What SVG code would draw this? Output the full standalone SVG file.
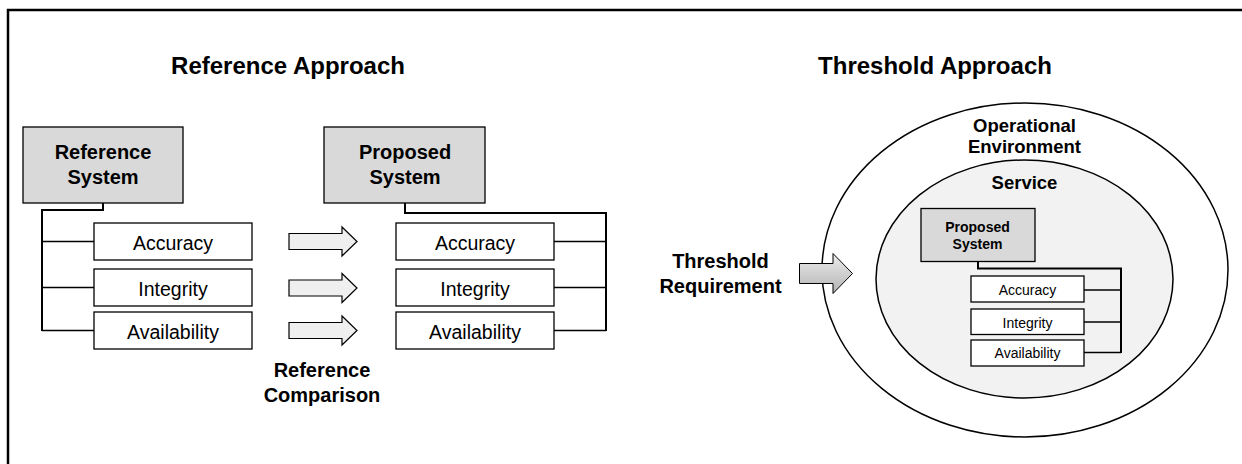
<svg xmlns="http://www.w3.org/2000/svg" width="1242" height="464" viewBox="0 0 1242 464">
  <defs>
    <linearGradient id="reqFill" x1="0" y1="0" x2="0" y2="1">
      <stop offset="0" stop-color="#ececec"/>
      <stop offset="1" stop-color="#b4b4b4"/>
    </linearGradient>
  </defs>
  <style>
    text { font-family: "Liberation Sans", Arial, sans-serif; fill: #000; text-anchor: middle; }
    .title { font-size: 24px; font-weight: bold; }
    .label { font-size: 20px; font-weight: bold; }
    .env { font-size: 18.5px; font-weight: bold; }
    .sys { fill: #d9d9d9; stroke: #000; stroke-width: 1.3; }
    .attr { fill: #fff; stroke: #000; stroke-width: 1.3; }
    .attr-t { font-size: 19.5px; }
    .small-sys-t { font-size: 14px; font-weight: bold; }
    .small-attr-t { font-size: 14px; }
    .link { fill: none; stroke: #000; stroke-width: 1.3; }
    .link-main { fill: none; stroke: #000; stroke-width: 2; }
    .cmp { fill: #efefef; stroke: #000; stroke-width: 1.2; }
  </style>

  <rect width="1242" height="464" fill="#fff"/>
  <!-- outer frame -->
  <rect x="8" y="10" width="1250" height="470" fill="none" stroke="#000" stroke-width="2.5"/>

  <!-- section titles -->
  <text class="title" x="288" y="74">Reference Approach</text>
  <text class="title" x="935" y="74">Threshold Approach</text>

  <!-- connectors -->
  <g id="connectors">
    <!-- reference system tree -->
    <polyline class="link-main" points="103,203 103,210 42,210 42,331"/>
    <line class="link" x1="42" y1="241.5" x2="94" y2="241.5"/>
    <line class="link" x1="42" y1="287.5" x2="94" y2="287.5"/>
    <line class="link" x1="42" y1="330.5" x2="94" y2="330.5"/>
    <!-- proposed system tree -->
    <polyline class="link-main" points="405,203 405,213 606,213 606,331"/>
    <line class="link" x1="554" y1="241.5" x2="606" y2="241.5"/>
    <line class="link" x1="554" y1="287.5" x2="606" y2="287.5"/>
    <line class="link" x1="554" y1="330.5" x2="606" y2="330.5"/>
    <!-- comparison arrows -->
    <polygon class="cmp" points="289,233.5 342,233.5 342,227 357,241.5 342,256 342,249.5 289,249.5"/>
    <polygon class="cmp" points="289,280 342,280 342,273.5 357,288 342,302.5 342,296 289,296"/>
    <polygon class="cmp" points="289,322.5 342,322.5 342,316 357,330.5 342,345 342,338.5 289,338.5"/>
  </g>

  <!-- reference system -->
  <g id="reference-system">
    <rect class="sys" x="23" y="127" width="160" height="76"/>
    <text class="label" x="103" y="159">Reference</text>
    <text class="label" x="103" y="183.5">System</text>
  </g>
  <g id="ref-accuracy">
    <rect class="attr" x="94" y="223" width="158" height="37"/>
    <text class="attr-t" x="173" y="250">Accuracy</text>
  </g>
  <g id="ref-integrity">
    <rect class="attr" x="94" y="269" width="158" height="37"/>
    <text class="attr-t" x="173" y="295.5">Integrity</text>
  </g>
  <g id="ref-availability">
    <rect class="attr" x="94" y="312" width="158" height="37"/>
    <text class="attr-t" x="173" y="339">Availability</text>
  </g>

  <g id="reference-comparison">
    <text class="label" x="322" y="377">Reference</text>
    <text class="label" x="322" y="402">Comparison</text>
  </g>

  <!-- proposed system -->
  <g id="proposed-system">
    <rect class="sys" x="324" y="127" width="161" height="76"/>
    <text class="label" x="405" y="159">Proposed</text>
    <text class="label" x="405" y="183.5">System</text>
  </g>
  <g id="prop-accuracy">
    <rect class="attr" x="396" y="223" width="158" height="37"/>
    <text class="attr-t" x="475" y="250">Accuracy</text>
  </g>
  <g id="prop-integrity">
    <rect class="attr" x="396" y="269" width="158" height="37"/>
    <text class="attr-t" x="475" y="295.5">Integrity</text>
  </g>
  <g id="prop-availability">
    <rect class="attr" x="396" y="312" width="158" height="37"/>
    <text class="attr-t" x="475" y="339">Availability</text>
  </g>

  <!-- threshold approach -->
  <g id="operational-environment">
    <ellipse cx="1025" cy="270" rx="203" ry="167" fill="#fff" stroke="#000" stroke-width="1.5"/>
    <text class="env" x="1024.5" y="131.5">Operational</text>
    <text class="env" x="1024.5" y="152.5">Environment</text>
  </g>
  <g id="service">
    <ellipse cx="1024.5" cy="279" rx="148.5" ry="119" fill="#f2f2f2" stroke="#000" stroke-width="1.5"/>
    <text class="env" x="1024.5" y="188.5">Service</text>
  </g>

  <g id="threshold-requirement">
    <text class="label" x="720.5" y="268">Threshold</text>
    <text class="label" x="720.5" y="293">Requirement</text>
    <polygon points="799.5,263.5 833,263.5 833,253.5 852.5,273.5 833,293.5 833,283.5 799.5,283.5" fill="url(#reqFill)" stroke="#000" stroke-width="1"/>
  </g>

  <g id="inner-connectors">
    <polyline class="link-main" points="978,262 978,268.5 1121,268.5 1121,353"/>
    <line class="link" x1="1084" y1="290" x2="1121" y2="290"/>
    <line class="link" x1="1084" y1="322" x2="1121" y2="322"/>
    <line class="link" x1="1084" y1="352.5" x2="1121" y2="352.5"/>
  </g>

  <g id="service-proposed-system">
    <rect class="sys" x="921" y="208.5" width="114" height="53"/>
    <text class="small-sys-t" x="977.5" y="232">Proposed</text>
    <text class="small-sys-t" x="977.5" y="248.5">System</text>
  </g>
  <g id="svc-accuracy">
    <rect class="attr" x="971" y="276" width="113" height="26"/>
    <text class="small-attr-t" x="1027.5" y="294.5">Accuracy</text>
  </g>
  <g id="svc-integrity">
    <rect class="attr" x="971" y="309" width="113" height="25.5"/>
    <text class="small-attr-t" x="1027.5" y="327.5">Integrity</text>
  </g>
  <g id="svc-availability">
    <rect class="attr" x="971" y="340" width="113" height="26"/>
    <text class="small-attr-t" x="1027.5" y="358">Availability</text>
  </g>
</svg>
